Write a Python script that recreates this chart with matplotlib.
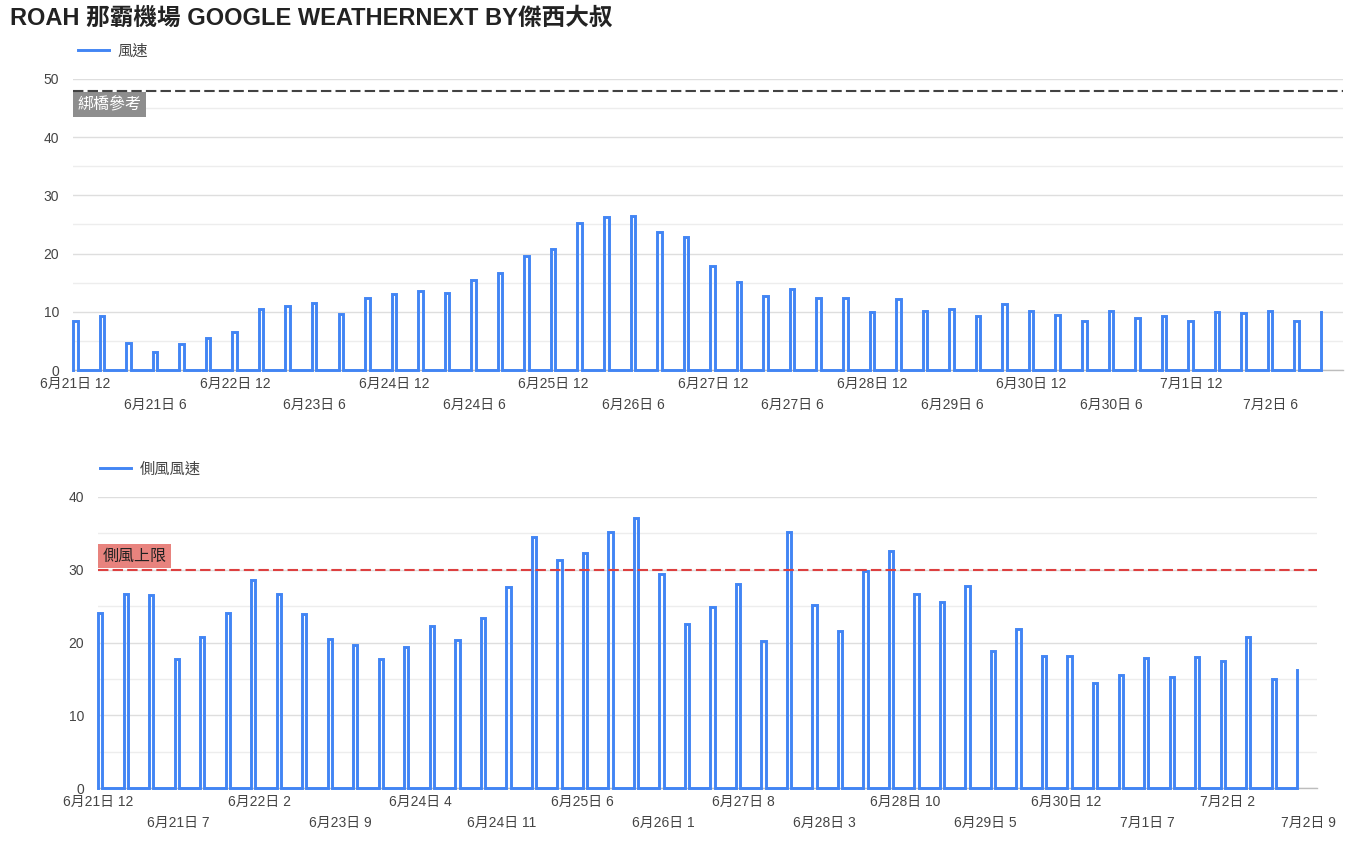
import numpy as np
import matplotlib
matplotlib.use('Agg')
import matplotlib.pyplot as plt

plt.rcParams['font.family'] = ['Liberation Sans', 'Noto Sans CJK TC', 'DejaVu Sans']

# 風速 (upper chart)
wind = [8.4, 9.2, 4.7, 3.1, 4.5, 5.5, 6.6, 10.4, 10.95, 11.5, 9.6, 12.4,
        13.1, 13.6, 13.2, 15.5, 16.6, 19.6, 20.8, 25.3, 26.3, 26.4, 23.7, 22.9,
        17.9, 15.1, 12.7, 13.9, 12.3, 12.3, 9.9, 12.2, 10.2, 10.5, 9.3, 11.4,
        10.1, 9.5, 8.4, 10.2, 9.0, 9.3, 8.4, 10.0, 9.75, 10.2, 8.5, 10.0]
wind_labels = ['6月21日 12', '6月21日 6', '6月22日 12', '6月23日 6', '6月24日 12',
               '6月24日 6', '6月25日 12', '6月26日 6', '6月27日 12', '6月27日 6',
               '6月28日 12', '6月29日 6', '6月30日 12', '6月30日 6', '7月1日 12',
               '7月2日 6']
wind_ref = 48  # 綁橋參考

# 側風風速 (lower chart)
cross = [24.0, 26.7, 26.5, 17.7, 20.7, 24.1, 28.6, 26.7, 23.9, 20.5, 19.6, 17.7,
         19.4, 22.2, 20.3, 23.3, 27.6, 34.5, 31.3, 32.3, 35.2, 37.1, 29.4, 22.5,
         24.9, 28.0, 20.2, 35.2, 25.2, 21.6, 29.8, 32.6, 26.6, 25.6, 27.7, 18.9,
         21.8, 18.2, 18.1, 14.5, 15.5, 17.9, 15.2, 18.0, 17.4, 20.8, 15.0, 16.2]
cross_labels = ['6月21日 12', '6月21日 7', '6月22日 2', '6月23日 9', '6月24日 4',
                '6月24日 11', '6月25日 6', '6月26日 1', '6月27日 8', '6月28日 3',
                '6月28日 10', '6月29日 5', '6月30日 12', '7月1日 7', '7月2日 2',
                '7月2日 9']
cross_limit = 30  # 側風上限

BLUE = '#4285f4'
GRID = '#dedede'
MINOR = '#ededed'
TXT = '#444444'


def spike_path(vals, w=0.17):
    xs, ys = [], []
    n = len(vals)
    for i, v in enumerate(vals):
        if i == n - 1:
            xs += [i, i]
            ys += [0, v]
        else:
            xs += [i, i, i + w, i + w]
            ys += [0, v, v, 0]
    return np.array(xs), np.array(ys)


def style_axis(ax, ymax, xmax, tick_pos, labels):
    ax.set_xlim(0, xmax)
    ax.set_ylim(0, ymax)
    ax.set_yticks(np.arange(0, ymax + 1, 10))
    ax.set_yticks(np.arange(5, ymax, 10), minor=True)
    ax.grid(True, axis='y', which='major', color=GRID, lw=1)
    ax.grid(True, axis='y', which='minor', color=MINOR, lw=1)
    ax.set_axisbelow(True)
    for s in ['top', 'left', 'right']:
        ax.spines[s].set_visible(False)
    ax.spines['bottom'].set_color('#bdbdbd')
    ax.spines['bottom'].set_linewidth(1)
    ax.set_xticks(tick_pos[0::2], labels[0::2])
    ax.set_xticks(tick_pos[1::2], labels[1::2], minor=True)
    ax.tick_params(axis='x', which='major', length=0, pad=5, labelsize=10, labelcolor=TXT)
    ax.tick_params(axis='x', which='minor', length=0, pad=20, labelsize=10, labelcolor=TXT)
    ax.tick_params(axis='y', which='both', length=0, pad=10, labelsize=10, labelcolor=TXT)


def draw_series(ax, vals, label):
    x, y = spike_path(vals)
    main, = ax.plot(x, y, color=BLUE, lw=2.1, label=label, zorder=3,
                    solid_joinstyle='miter', clip_on=False)
    return main


fig = plt.figure(figsize=(13.66, 8.47), dpi=100)
ax1 = fig.add_axes([73 / 1366, 1 - 370 / 847, 1270 / 1366, 291 / 847])
ax2 = fig.add_axes([98 / 1366, 1 - 788 / 847, 1219 / 1366, 291 / 847])

# upper chart
line1 = draw_series(ax1, wind, '風速')
style_axis(ax1, 50, 47.83, np.arange(len(wind_labels)) * 3 + 0.1, wind_labels)
ax1.axhline(wind_ref, color='#424242', lw=1.5, ls=(0, (5, 2)), zorder=4)
ax1.annotate('綁橋參考', xy=(0, wind_ref), xycoords=('axes fraction', 'data'),
             xytext=(3.5, -4.3), textcoords='offset points', ha='left', va='top',
             fontsize=11.5, color='white',
             bbox=dict(boxstyle='square,pad=0.28', fc='#8e8e8e', ec='none'))
ax1.legend(handles=[line1], loc='center left', bbox_to_anchor=(0.004, 1.095),
           frameon=False, borderpad=0, borderaxespad=0, handlelength=2.0,
           handletextpad=0.6, fontsize=11, labelcolor=TXT)

# lower chart
line2 = draw_series(ax2, cross, '側風風速')
style_axis(ax2, 40, 47.78, np.arange(len(cross_labels)) * 3.163, cross_labels)
ax2.axhline(cross_limit, color='#dd4040', lw=1.5, ls=(0, (5, 2)), zorder=4)
ax2.annotate('側風上限', xy=(0, cross_limit), xycoords=('axes fraction', 'data'),
             xytext=(3.5, 4.3), textcoords='offset points', ha='left', va='bottom',
             fontsize=11.5, color='#222222',
             bbox=dict(boxstyle='square,pad=0.28', fc='#e8837e', ec='none'))
ax2.legend(handles=[line2], loc='center left', bbox_to_anchor=(0.0016, 1.095),
           frameon=False, borderpad=0, borderaxespad=0, handlelength=2.0,
           handletextpad=0.6, fontsize=11, labelcolor=TXT)

fig.text(10 / 1366, 1 - 18 / 847, 'ROAH 那霸機場 GOOGLE WEATHERNEXT BY傑西大叔',
         fontsize=17, fontweight='bold', color='#222222', ha='left', va='center')

plt.savefig('out.png', dpi=100)
